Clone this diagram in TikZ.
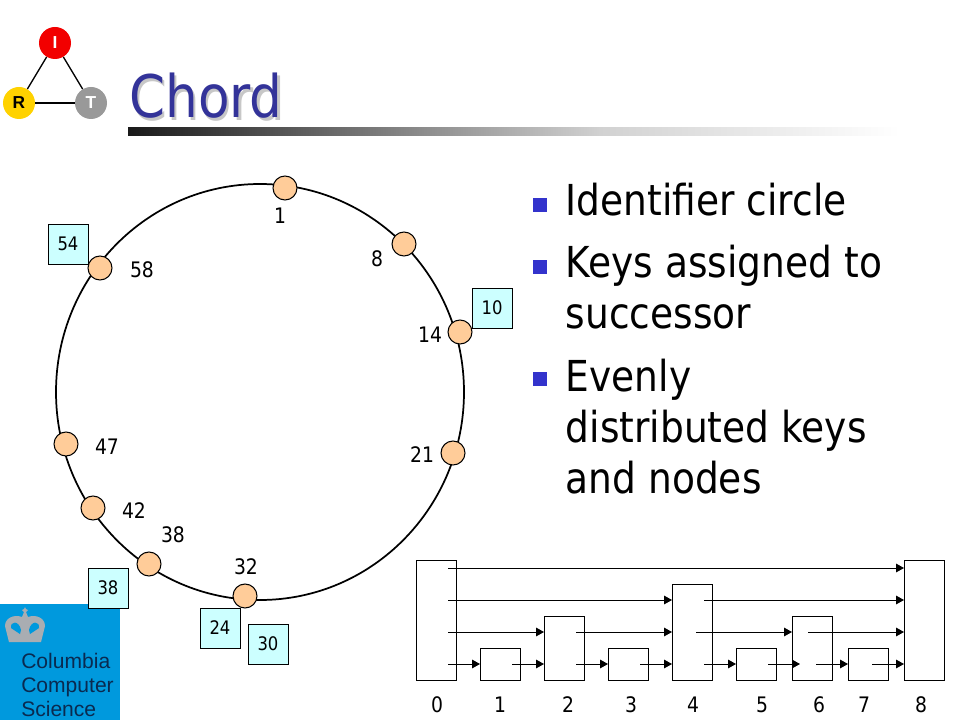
\documentclass[tikz,border=0pt]{standalone}
\usepackage{fontspec}
\setmainfont[FakeStretch=0.88]{DejaVu Sans}
\newfontfamily\logofont{Liberation Sans}
\usetikzlibrary{arrows.meta}
\definecolor{titleblue}{HTML}{333399}
\definecolor{bulletblue}{HTML}{3333CC}
\definecolor{ringfill}{HTML}{FFCC99}
\definecolor{keyfill}{HTML}{CCFFFF}
\definecolor{logoblue}{HTML}{0099DD}
\definecolor{logoyellow}{HTML}{FFD200}
\definecolor{logonavy}{HTML}{0A2A50}
\definecolor{crowngray}{HTML}{A9ADB2}
\tikzset{
    ringnode/.style={circle, draw, fill=ringfill, line width=0.8pt, minimum size=18pt, inner sep=0pt, outer sep=0pt},
    keybox/.style={draw, fill=keyfill, line width=0.6pt, minimum size=30pt, inner sep=0pt, outer sep=0pt, font=\fontsize{14}{16}\selectfont},
    numlabel/.style={inner sep=0pt, font=\fontsize{16}{18}\selectfont},
    skipbox/.style={draw, fill=white, line width=0.75pt, minimum width=30pt, inner sep=0pt, outer sep=0pt, anchor=south west},
    skiparrow/.style={-{Triangle[length=6pt,width=6.5pt]}, line width=0.75pt},
    bodytext/.style={anchor=base west, inner sep=0pt, font=\fontsize{32}{38}\selectfont},
    bulletmark/.style={fill=bulletblue, minimum size=10.5pt, inner sep=0pt},
    logodot/.style={circle, minimum size=24pt, inner sep=0pt, font=\bfseries\logofont\fontsize{13}{14}\selectfont},
    logotext/.style={anchor=base west, inner sep=0pt, text=logonavy, font=\logofont\fontsize{15.8}{18}\selectfont},
}
\begin{document}
\begin{tikzpicture}[x=0.75pt, y=-0.75pt]
    \useasboundingbox (0, 0) rectangle (960, 720);
    %draw title and bar
    \shade[left color=black!90, right color=black!18] (128, 128) rectangle (600.5, 136);
    \shade[left color=black!18, right color=white] (600, 128) rectangle (900, 136);
    \node[anchor=base west, inner sep=0pt, text=black!22, font=\fontsize{44}{50}\selectfont] (titleshadow) at (131.5, 120.5) {Chord};
    \node[anchor=base west, inner sep=0pt, text=titleblue, font=\fontsize{44}{50}\selectfont] (title) at (129, 118) {Chord};
    %draw logo top left
    \node[logodot, fill=red!95!black, text=white] (logoI) at (55, 43) {I};
    \node[logodot, fill=logoyellow] (logoR) at (19, 103) {R};
    \node[logodot, fill=black!40, text=white] (logoT) at (91, 103) {T};
    \draw[line width=1pt] (logoI) -- (logoR);
    \draw[line width=1pt] (logoI) -- (logoT);
    \draw[line width=1pt] (logoR) -- (logoT);
    %draw columbia logo
    \fill[logoblue] (0, 604) rectangle (120, 720);
    \fill[crowngray] (9, 642) -- (5, 626) .. controls (5, 618) and (14, 614) .. (22, 617)
        -- (24, 612) -- (22, 610) -- (24, 609) -- (25, 607) -- (26, 609) -- (28, 610) -- (26, 612) -- (28, 617)
        .. controls (36, 614) and (45, 618) .. (45, 626) -- (41, 642) -- cycle;
    \fill[logoblue] (11, 628) .. controls (10, 621) and (19, 620) .. (21, 630) -- (20, 634) -- cycle;
    \fill[logoblue] (39, 628) .. controls (40, 621) and (31, 620) .. (29, 630) -- (30, 634) -- cycle;
    \node[logotext] (logoA) at (21, 668) {Columbia};
    \node[logotext] (logoB) at (21, 692) {Computer};
    \node[logotext] (logoC) at (21, 716) {Science};
    %draw identifier circle
    \draw[line width=1.3pt] (260, 392) ellipse (204 and 208);
    %draw nodes on circle
    \node[ringnode] (ring1) at (285, 188) {};
    \node[ringnode] (ring8) at (404, 244) {};
    \node[ringnode] (ring14) at (460, 332) {};
    \node[ringnode] (ring21) at (453, 453) {};
    \node[ringnode] (ring32) at (245, 596) {};
    \node[ringnode] (ring38) at (149, 564) {};
    \node[ringnode] (ring42) at (93, 508) {};
    \node[ringnode] (ring47) at (66, 444) {};
    \node[ringnode] (ring58) at (100, 268) {};
    %label nodes
    \node[numlabel] (lab1) at (280, 216) {1};
    \node[numlabel] (lab8) at (377, 259) {8};
    \node[numlabel] (lab14) at (430, 335) {14};
    \node[numlabel] (lab21) at (422, 455) {21};
    \node[numlabel] (lab32) at (246, 567) {32};
    \node[numlabel] (lab38) at (173, 535) {38};
    \node[numlabel] (lab42) at (134, 511) {42};
    \node[numlabel] (lab47) at (107, 447) {47};
    \node[numlabel] (lab58) at (142, 270) {58};
    %draw keys
    \node[keybox] (key54) at (68, 244) {54};
    \node[keybox] (key10) at (492, 308) {10};
    \node[keybox] (key38) at (108, 588) {38};
    \node[keybox] (key24) at (220, 628) {24};
    \node[keybox] (key30) at (268, 644) {30};
    %draw bullets and text
    \node[bulletmark] (bulletA) at (540, 205) {};
    \node[bulletmark] (bulletB) at (540, 267) {};
    \node[bulletmark] (bulletC) at (540, 379) {};
    \node[bodytext] (textA) at (565.5, 216) {Identifier circle};
    \node[bodytext] (textB) at (565.5, 278) {Keys assigned to};
    \node[bodytext] (textBB) at (565.5, 329) {successor};
    \node[bodytext] (textC) at (565.5, 391) {Evenly};
    \node[bodytext] (textCC) at (565.5, 442) {distributed keys};
    \node[bodytext] (textCCC) at (565.5, 493) {and nodes};
    %draw skip list boxes
    \node[skipbox, minimum height=90pt] (box0) at (416, 680) {};
    \node[skipbox, minimum height=24pt] (box1) at (480, 680) {};
    \node[skipbox, minimum height=48pt] (box2) at (544, 680) {};
    \node[skipbox, minimum height=24pt] (box3) at (608, 680) {};
    \node[skipbox, minimum height=72pt] (box4) at (672, 680) {};
    \node[skipbox, minimum height=24pt] (box5) at (736, 680) {};
    \node[skipbox, minimum height=48pt] (box6) at (792, 680) {};
    \node[skipbox, minimum height=24pt] (box7) at (848, 680) {};
    \node[skipbox, minimum height=90pt] (box8) at (904, 680) {};
    %arrow start points
    \coordinate (s0d) at (448, 568);
    \coordinate (s0c) at (448, 600);
    \coordinate (s0b) at (448, 632);
    \coordinate (s0a) at (448, 664);
    \coordinate (s1a) at (512, 664);
    \coordinate (s2b) at (576, 632);
    \coordinate (s2a) at (576, 664);
    \coordinate (s3a) at (640, 664);
    \coordinate (s4c) at (704, 600);
    \coordinate (s4b) at (696, 632);
    \coordinate (s4a) at (704, 664);
    \coordinate (s5a) at (768, 664);
    \coordinate (e6a) at (800, 664);
    \coordinate (s6b) at (808, 632);
    \coordinate (s6a) at (816, 664);
    \coordinate (s7a) at (872, 664);
    %draw skip list arrows
    \draw[skiparrow] (s0d) -- (s0d -| box8.west);
    \draw[skiparrow] (s0c) -- (s0c -| box4.west);
    \draw[skiparrow] (s4c) -- (s4c -| box8.west);
    \draw[skiparrow] (s0b) -- (s0b -| box2.west);
    \draw[skiparrow] (s2b) -- (s2b -| box4.west);
    \draw[skiparrow] (s4b) -- (s4b -| box6.west);
    \draw[skiparrow] (s6b) -- (s6b -| box8.west);
    \draw[skiparrow] (s0a) -- (s0a -| box1.west);
    \draw[skiparrow] (s1a) -- (s1a -| box2.west);
    \draw[skiparrow] (s2a) -- (s2a -| box3.west);
    \draw[skiparrow] (s3a) -- (s3a -| box4.west);
    \draw[skiparrow] (s4a) -- (s4a -| box5.west);
    \draw[skiparrow] (s5a) -- (e6a);
    \draw[skiparrow] (s6a) -- (s6a -| box7.west);
    \draw[skiparrow] (s7a) -- (s7a -| box8.west);
    %label skip list
    \node[numlabel] (num0) at (437, 705) {0};
    \node[numlabel] (num1) at (500, 705) {1};
    \node[numlabel] (num2) at (568, 705) {2};
    \node[numlabel] (num3) at (631, 705) {3};
    \node[numlabel] (num4) at (693, 705) {4};
    \node[numlabel] (num5) at (762, 705) {5};
    \node[numlabel] (num6) at (819, 705) {6};
    \node[numlabel] (num7) at (864, 705) {7};
    \node[numlabel] (num8) at (921, 705) {8};
\end{tikzpicture}
\end{document}
